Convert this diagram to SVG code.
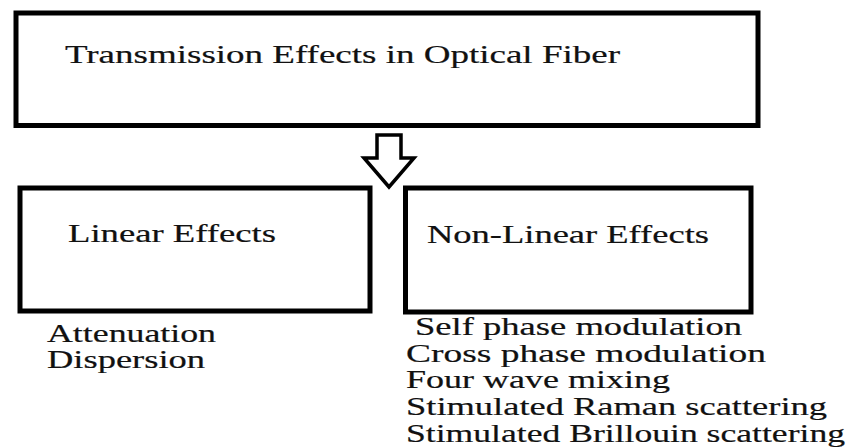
<svg xmlns="http://www.w3.org/2000/svg" width="851" height="448" viewBox="0 0 851 448">
<style>
.box{fill:#fff;stroke:#000;stroke-width:5}
.t{font-family:'Liberation Serif','Times New Roman',Times,serif;font-size:25px;fill:#111;stroke:#111;stroke-width:0.2}
.arrow{fill:#fff;stroke:#000;stroke-width:3.5;stroke-linejoin:miter}
</style>
<rect width="851" height="448" fill="#fff"/>
<g id="top">
<rect class="box" x="16" y="13" width="742" height="112.5"/>
<text class="t" x="65" y="63" textLength="555" lengthAdjust="spacingAndGlyphs">Transmission Effects in Optical Fiber</text>
</g>
<g id="connectors">
<polygon class="arrow" points="377,135 401,135 401,158 414,158 389,187 364,158 377,158"/>
</g>
<g id="linear">
<rect class="box" x="20" y="188" width="350" height="123"/>
<text class="t" x="68" y="242" textLength="208" lengthAdjust="spacingAndGlyphs">Linear Effects</text>
<text class="t" x="47" y="342" textLength="169" lengthAdjust="spacingAndGlyphs">Attenuation</text>
<text class="t" x="47" y="368" textLength="158" lengthAdjust="spacingAndGlyphs">Dispersion</text>
</g>
<g id="nonlinear">
<rect class="box" x="405.5" y="188" width="345.5" height="124"/>
<text class="t" x="427" y="243" textLength="282" lengthAdjust="spacingAndGlyphs">Non-Linear Effects</text>
<text class="t" x="415" y="335" textLength="327" lengthAdjust="spacingAndGlyphs">Self phase modulation</text>
<text class="t" x="406" y="362" textLength="360" lengthAdjust="spacingAndGlyphs">Cross phase modulation</text>
<text class="t" x="406" y="388" textLength="264" lengthAdjust="spacingAndGlyphs">Four wave mixing</text>
<text class="t" x="406" y="415" textLength="421" lengthAdjust="spacingAndGlyphs">Stimulated Raman scattering</text>
<text class="t" x="406" y="442" textLength="439" lengthAdjust="spacingAndGlyphs">Stimulated Brillouin scattering</text>
</g>
</svg>
